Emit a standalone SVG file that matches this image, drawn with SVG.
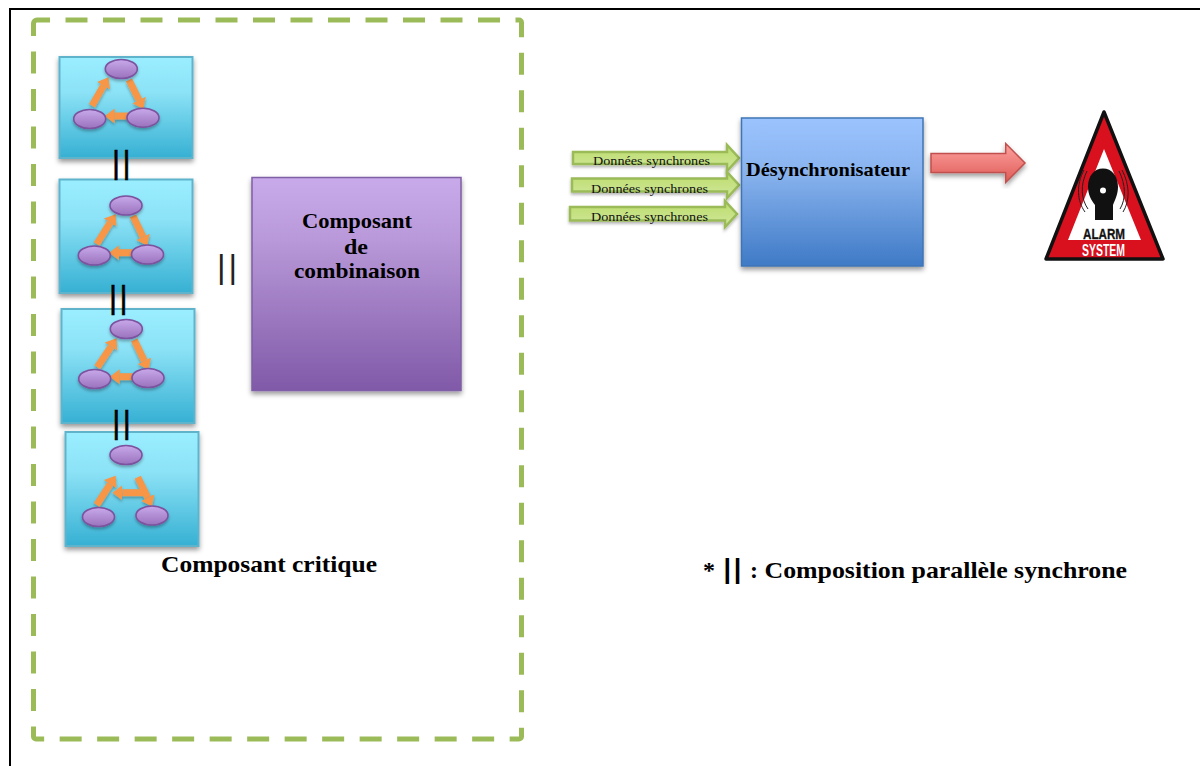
<svg xmlns="http://www.w3.org/2000/svg" width="1200" height="766" viewBox="0 0 1200 766">
<style>
.sf{font-family:"Liberation Serif","DejaVu Serif",serif}
.b{font-weight:700;fill:#000}
.bar{font-family:"Liberation Sans",Arial,sans-serif;fill:#000;stroke:#000;stroke-width:.5}
.tile{fill:url(#gTile);stroke:#5fb4cc;stroke-width:2;filter:url(#sh)}
.ell{fill:url(#gEll);stroke:#7c529f;stroke-width:1.6;filter:url(#shs)}
.tri{stroke:#f79646;stroke-width:7;marker-end:url(#mTri);fill:none}
.green{fill:url(#gGreen);stroke:#9bbb59;stroke-width:2.500;filter:url(#shs)}
.lbl{font-size:13.500px;fill:#111}
</style>
<defs>
<linearGradient id="gTile" x1="0" y1="0" x2="0" y2="1"><stop offset="0" stop-color="#9aeeff"/><stop offset=".35" stop-color="#8ce2f6"/><stop offset="1" stop-color="#36b0d3"/></linearGradient>
<linearGradient id="gEll" x1="0" y1="0" x2="0" y2="1"><stop offset="0" stop-color="#c8a9ea"/><stop offset="1" stop-color="#9a72bd"/></linearGradient>
<linearGradient id="gPurple" x1="0" y1="0" x2="0" y2="1"><stop offset="0" stop-color="#c8aaeb"/><stop offset=".3" stop-color="#b898d8"/><stop offset="1" stop-color="#8059a8"/></linearGradient>
<linearGradient id="gBlue" x1="0" y1="0" x2="0" y2="1"><stop offset="0" stop-color="#9bc4ff"/><stop offset=".35" stop-color="#8ab4ef"/><stop offset="1" stop-color="#3f7ac6"/></linearGradient>
<linearGradient id="gGreen" x1="0" y1="0" x2="0" y2="1"><stop offset="0" stop-color="#bcdc6c"/><stop offset="1" stop-color="#cfe79a"/></linearGradient>
<linearGradient id="gRed" x1="0" y1="0" x2="0" y2="1"><stop offset="0" stop-color="#fda3a0"/><stop offset="1" stop-color="#df5a56"/></linearGradient>
<filter id="sh" x="-15%" y="-15%" width="130%" height="130%"><feDropShadow dx="0" dy="3" stdDeviation="2.500" flood-color="#000" flood-opacity=".4"/></filter>
<filter id="shs" x="-30%" y="-40%" width="160%" height="190%"><feDropShadow dx="0" dy="2" stdDeviation="1.500" flood-color="#000" flood-opacity=".3"/></filter>
<filter id="soft"><feGaussianBlur stdDeviation=".4"/></filter>
<marker id="mTri" markerUnits="userSpaceOnUse" markerWidth="11" markerHeight="18" refX="0" refY="9" orient="auto"><path d="M0 1.500L10 9L0 16.500Z" fill="#f79646"/></marker>
</defs>
<rect width="1200" height="766" fill="#fff"/>
<path d="M1200 9H10V766" fill="none" stroke="#000" stroke-width="2"/>
<g id="frame"><path d="M37 20H519a2.500 2.500 0 0 1 2.500 2.500V736.500a2.500 2.500 0 0 1-2.500 2.500H36a2.500 2.500 0 0 1-2.500-2.500V23.500a3.500 3.500 0 0 1 3.500-3.500Z" fill="none" stroke="#9bbb59" stroke-width="5" stroke-dasharray="22 15.500" stroke-dashoffset="9"/></g>

<g id="tile1"><rect class="tile" x="59.500" y="57" width="133" height="101"/></g>
<g id="tile2"><rect class="tile" x="59.500" y="179.500" width="133" height="113.500"/></g>
<g id="tile3"><rect class="tile" x="61.500" y="309" width="133" height="114"/></g>
<g id="tile4"><rect class="tile" x="65.500" y="432" width="133" height="114"/></g>

<g id="connectors" filter="url(#shs)">
<line class="tri" x1="92" y1="105.700" x2="103.500" y2="85.800"/><line class="tri" x1="129" y1="80" x2="139" y2="100"/><line class="tri" x1="128" y1="116" x2="114.700" y2="116"/>
<line class="tri" x1="96.700" y1="244" x2="110.200" y2="222.600"/><line class="tri" x1="133" y1="216" x2="143" y2="236.800"/><line class="tri" x1="132.700" y1="252.700" x2="119" y2="252.700"/>
<line class="tri" x1="97.300" y1="367.300" x2="111" y2="346.700"/><line class="tri" x1="134.300" y1="340" x2="144.300" y2="360.800"/><line class="tri" x1="132.700" y1="376.700" x2="119.700" y2="376.700"/>
<line class="tri" x1="96.700" y1="505" x2="110.200" y2="484.200"/><line class="tri" x1="137.700" y1="477.300" x2="147.700" y2="497.500"/><line class="tri" x1="143.300" y1="492.700" x2="122.300" y2="492.700"/>
</g>

<g id="tile1-nodes"><ellipse class="ell" cx="121.300" cy="69" rx="16" ry="9.500"/><ellipse class="ell" cx="89.700" cy="119" rx="16" ry="9.500"/><ellipse class="ell" cx="143" cy="117.700" rx="16" ry="9.500"/></g>
<g id="tile2-nodes"><ellipse class="ell" cx="126" cy="205.500" rx="16" ry="9.500"/><ellipse class="ell" cx="94.300" cy="255.500" rx="16" ry="9.500"/><ellipse class="ell" cx="147.500" cy="254.500" rx="16" ry="9.500"/></g>
<g id="tile3-nodes"><ellipse class="ell" cx="126.300" cy="329" rx="16" ry="9.500"/><ellipse class="ell" cx="94.700" cy="379" rx="16" ry="9.500"/><ellipse class="ell" cx="148" cy="378" rx="16" ry="9.500"/></g>
<g id="tile4-nodes"><ellipse class="ell" cx="126" cy="455" rx="16" ry="9.500"/><ellipse class="ell" cx="98.500" cy="517" rx="16" ry="9.500"/><ellipse class="ell" cx="152" cy="515.500" rx="16" ry="9.500"/></g>

<g id="bars">
<text class="bar" x="112" y="172.500" font-size="31" letter-spacing="2.400">||</text>
<text class="bar" x="109" y="307.500" font-size="31" letter-spacing="2.400">||</text>
<text class="bar" x="112.300" y="432.500" font-size="31" letter-spacing="2.400">||</text>
<text x="217" y="278" font-family="Liberation Sans, Arial, sans-serif" font-size="33" letter-spacing="3" fill="#222">||</text>
</g>

<g id="composant-combinaison"><rect x="252" y="177.500" width="209" height="213" fill="url(#gPurple)" stroke="#7f5ea5" stroke-width="1.500" filter="url(#sh)"/>
<text class="sf b" font-size="21" x="302" y="228" textLength="110" lengthAdjust="spacingAndGlyphs">Composant</text>
<text class="sf b" font-size="21" x="344" y="254" textLength="24" lengthAdjust="spacingAndGlyphs">de</text>
<text class="sf b" font-size="21" x="294" y="278" textLength="126" lengthAdjust="spacingAndGlyphs">combinaison</text></g>

<text id="lbl-critique" class="sf b" x="161" y="572" font-size="23.500" textLength="216" lengthAdjust="spacingAndGlyphs">Composant critique</text>

<g id="data-arrows">
<g id="data1"><path class="green" d="M573 152H727V145L739 158L727 171V164H573Z"/><text class="sf lbl" x="593" y="164.500" textLength="117" lengthAdjust="spacingAndGlyphs">Données synchrones</text></g>
<g id="data2"><path class="green" d="M572 178.500H727V172L739 185L727 198V191.500H572Z"/><text class="sf lbl" x="591" y="192.500" textLength="117" lengthAdjust="spacingAndGlyphs">Données synchrones</text></g>
<g id="data3"><path class="green" d="M570 207H725V201L737 214L725 227V220.500H570Z"/><text class="sf lbl" x="591" y="220.500" textLength="117" lengthAdjust="spacingAndGlyphs">Données synchrones</text></g>
</g>

<g id="desynchronisateur"><rect x="741.500" y="118" width="181.500" height="148" fill="url(#gBlue)" stroke="#3f75b5" stroke-width="1.500" filter="url(#sh)"/>
<text class="sf b" x="746" y="176" font-size="19.500" textLength="164" lengthAdjust="spacingAndGlyphs">Désynchronisateur</text></g>

<g id="output-arrow"><path d="M931 153.500H1005.700V143.500L1025 163L1005.700 182.500V172.500H931Z" fill="url(#gRed)" stroke="#c0504d" stroke-width="1.500" filter="url(#sh)"/></g>

<g id="alarm">
<path d="M1104 112L1163 259H1046Z" fill="#d9101e" stroke="#111" stroke-width="3.500" stroke-linejoin="round"/>
<path d="M1104 149L1141 240H1068Z" fill="#fff"/>
<path d="M1095 220V205C1091 200 1088 194 1088 187C1088 176 1094 168.500 1103 168.500C1112 168.500 1118 176 1118 187C1118 194 1115 200 1113 205V220Z" fill="#111"/>
<circle cx="1103" cy="190.500" r="3" fill="#fff"/>
<g fill="none" stroke="#222" stroke-width="1" filter="url(#soft)">
<path d="M1087 171C1080 185 1081 199 1088 209"/><path d="M1084 170C1076 185 1077 201 1085 212"/>
<path d="M1119 171C1126 185 1126 199 1120 209"/><path d="M1122 170C1130 185 1130 201 1123 212"/>
</g>
<text x="1083" y="238.500" font-family="Liberation Sans, Arial, sans-serif" font-weight="700" font-size="14.500" textLength="42" lengthAdjust="spacingAndGlyphs" fill="#111" stroke="#111" stroke-width=".3">ALARM</text>
<text x="1082" y="255.500" font-family="Liberation Sans, Arial, sans-serif" font-weight="700" font-size="16.500" textLength="43" lengthAdjust="spacingAndGlyphs" fill="#fff">SYSTEM</text>
</g>

<text id="footnote" class="sf b" y="578" font-size="24"><tspan x="703">* </tspan><tspan x="723.500" font-family="Liberation Sans, Arial, sans-serif" font-size="27" letter-spacing="2.600">||</tspan> <tspan x="750">: </tspan><tspan x="764.500" textLength="362.500" lengthAdjust="spacingAndGlyphs">Composition parallèle synchrone</tspan></text>
</svg>
